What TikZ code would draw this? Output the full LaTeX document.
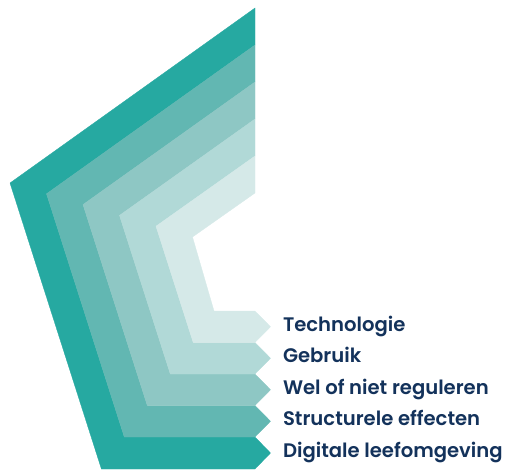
\documentclass[tikz,border=0pt]{standalone}
\usepackage{fontspec}
\setmainfont{Poppins}[BoldFont={Poppins SemiBold}]
\definecolor{tealA}{HTML}{26A9A1}
\definecolor{tealB}{HTML}{62B7B2}
\definecolor{tealC}{HTML}{8EC7C4}
\definecolor{tealD}{HTML}{B1D9D7}
\definecolor{tealE}{HTML}{D5E9E8}
\definecolor{navy}{HTML}{13325B}
\begin{document}
\begin{tikzpicture}[x=1pt,y=-1pt,
		layer/.style={fill=#1,draw=#1,line width=0.3pt,line join=miter},
		lbl/.style={anchor=base west,text=navy,font=\bfseries\fontsize{19.6}{23}\selectfont}]
		\useasboundingbox (0,0) rectangle (505,469);

		% outer band first, lightest band last
		\draw[layer=tealA] (255,8) -- (10,183) -- (101.4,469) -- (255,469) -- (270.5,453) -- (255,437)
			-- (124.3,437) -- (46.5,193.8) -- (255,45) -- cycle;
		\draw[layer=tealB] (255,45) -- (46.5,193.8) -- (124.3,437) -- (255,437) -- (270.5,421.25) -- (255,405.5)
			-- (147.3,405.5) -- (83,204.6) -- (255,82) -- cycle;
		\draw[layer=tealC] (255,82) -- (83,204.6) -- (147.3,405.5) -- (255,405.5) -- (270.5,389.75) -- (255,374)
			-- (170.3,374) -- (119.5,215.4) -- (255,119) -- cycle;
		\draw[layer=tealD] (255,119) -- (119.5,215.4) -- (170.3,374) -- (255,374) -- (270.5,358.25) -- (255,342.5)
			-- (193.2,342.5) -- (156,226.2) -- (255,156) -- cycle;
		\draw[layer=tealE] (255,156) -- (156,226.2) -- (193.2,342.5) -- (255,342.5) -- (270.5,326.75) -- (255,311)
			-- (214,311) -- (192.5,237) -- (255,193) -- cycle;

		\node[lbl] (technologie) at (279.5,331) {Technologie};
		\node[lbl] (gebruik) at (279.5,362.5) {Gebruik};
		\node[lbl] (reguleren) at (279.5,394) {Wel of niet reguleren};
		\node[lbl] (effecten) at (279.5,425.5) {Structurele effecten};
		\node[lbl] (leefomgeving) at (279.5,457) {Digitale leefomgeving};
\end{tikzpicture}
\end{document}
